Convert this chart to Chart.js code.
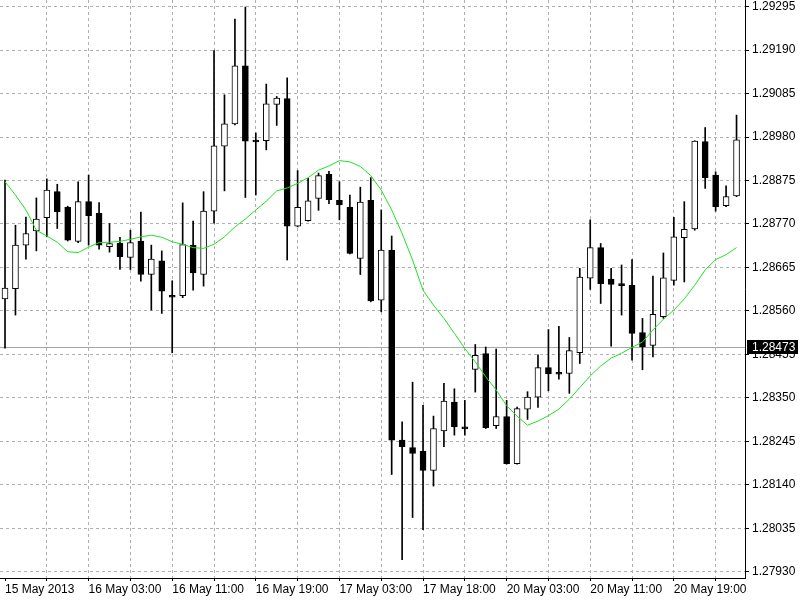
<!DOCTYPE html>
<html>
<head>
<meta charset="utf-8">
<title>EURUSD H1</title>
<script src="https://cdn.jsdelivr.net/npm/chart.js@4.4.1/dist/chart.umd.min.js"></script>
<style>
  html, body { margin: 0; padding: 0; background: #ffffff; }
  #wrap { width: 800px; height: 600px; }
</style>
</head>
<body>
<div id="wrap"><canvas id="priceChart" width="800" height="600"></canvas></div>
<script>
"use strict";

// hourly bars, left to right (bar 0 = 15 May 2013 19:00)
const openPrices = [
    1.28589, 1.28614, 1.28719, 1.28753, 1.28785, 1.28848, 1.28810, 1.28728, 1.28824, 1.28796,
    1.28715, 1.28724, 1.28689, 1.28729, 1.28648, 1.28681, 1.28597, 1.28597, 1.28719, 1.28648,
    1.28801, 1.28958, 1.29012, 1.29152, 1.28970, 1.28971, 1.29059, 1.29073, 1.28765, 1.28778,
    1.28832, 1.28890, 1.28827, 1.28811, 1.28687, 1.28827, 1.28586, 1.28707, 1.28248, 1.28230,
    1.28221, 1.28175, 1.28270, 1.28340, 1.28280, 1.28419, 1.28457, 1.28283, 1.28305, 1.28191,
    1.28323, 1.28352, 1.28423, 1.28410, 1.28409, 1.28459, 1.28639, 1.28713, 1.28637, 1.28625,
    1.28622, 1.28508, 1.28477, 1.28546, 1.28634, 1.28737, 1.28758, 1.28969, 1.28888, 1.28814,
    1.28838
];
const highPrices = [
    1.28876, 1.28767, 1.28787, 1.28833, 1.28879, 1.28866, 1.28813, 1.28872, 1.28888, 1.28822,
    1.28771, 1.28738, 1.28755, 1.28799, 1.28719, 1.28705, 1.28633, 1.28821, 1.28777, 1.28848,
    1.29189, 1.29082, 1.29265, 1.29294, 1.28990, 1.29108, 1.29078, 1.29123, 1.28899, 1.28880,
    1.28893, 1.28897, 1.28872, 1.28840, 1.28859, 1.28882, 1.28804, 1.28741, 1.28292, 1.28388,
    1.28332, 1.28306, 1.28385, 1.28372, 1.28344, 1.28479, 1.28473, 1.28468, 1.28344, 1.28328,
    1.28365, 1.28454, 1.28515, 1.28523, 1.28496, 1.28663, 1.28780, 1.28723, 1.28663, 1.28671,
    1.28684, 1.28542, 1.28644, 1.28700, 1.28786, 1.28824, 1.28971, 1.29003, 1.28896, 1.28862,
    1.29033
];
const lowPrices = [
    1.28470, 1.28550, 1.28685, 1.28705, 1.28739, 1.28759, 1.28729, 1.28725, 1.28719, 1.28709,
    1.28702, 1.28660, 1.28660, 1.28632, 1.28562, 1.28554, 1.28459, 1.28592, 1.28610, 1.28620,
    1.28772, 1.28850, 1.29009, 1.28834, 1.28840, 1.28949, 1.29008, 1.28683, 1.28763, 1.28777,
    1.28803, 1.28819, 1.28780, 1.28698, 1.28648, 1.28582, 1.28558, 1.28165, 1.27959, 1.28061,
    1.28032, 1.28137, 1.28232, 1.28260, 1.28260, 1.28364, 1.28276, 1.28276, 1.28190, 1.28190,
    1.28298, 1.28327, 1.28367, 1.28395, 1.28361, 1.28433, 1.28612, 1.28578, 1.28475, 1.28550,
    1.28441, 1.28418, 1.28449, 1.28542, 1.28622, 1.28630, 1.28755, 1.28856, 1.28801, 1.28812,
    1.28836
];
const closePrices = [
    1.28615, 1.28719, 1.28747, 1.28782, 1.28852, 1.28800, 1.28731, 1.28824, 1.28790, 1.28719,
    1.28723, 1.28691, 1.28725, 1.28648, 1.28685, 1.28608, 1.28593, 1.28720, 1.28652, 1.28801,
    1.28959, 1.29012, 1.29152, 1.28970, 1.28968, 1.29060, 1.29074, 1.28765, 1.28810, 1.28826,
    1.28887, 1.28829, 1.28816, 1.28699, 1.28823, 1.28584, 1.28707, 1.28248, 1.28232, 1.28216,
    1.28175, 1.28276, 1.28342, 1.28280, 1.28275, 1.28453, 1.28278, 1.28305, 1.28191, 1.28324,
    1.28352, 1.28423, 1.28408, 1.28407, 1.28464, 1.28642, 1.28713, 1.28626, 1.28624, 1.28621,
    1.28506, 1.28473, 1.28552, 1.28640, 1.28739, 1.28757, 1.28970, 1.28882, 1.28812, 1.28836,
    1.28973
];
// moving average (green line)
const maValues = [
    1.28872, 1.28840, 1.28804, 1.28755, 1.28741, 1.28726, 1.28703, 1.28701, 1.28714, 1.28725,
    1.28726, 1.28728, 1.28733, 1.28739, 1.28743, 1.28738, 1.28727, 1.28721, 1.28713, 1.28711,
    1.28721, 1.28739, 1.28763, 1.28782, 1.28804, 1.28825, 1.28850, 1.28857, 1.28868, 1.28882,
    1.28900, 1.28910, 1.28923, 1.28920, 1.28909, 1.28887, 1.28852, 1.28804, 1.28747, 1.28683,
    1.28610, 1.28574, 1.28542, 1.28506, 1.28469, 1.28437, 1.28401, 1.28369, 1.28331, 1.28306,
    1.28284, 1.28294, 1.28307, 1.28323, 1.28347, 1.28375, 1.28403, 1.28427, 1.28446, 1.28458,
    1.28472, 1.28485, 1.28514, 1.28540, 1.28562, 1.28589, 1.28622, 1.28659, 1.28684, 1.28696,
    1.28713
];
const bidPrice = 1.28473;

// axis ticks
const priceTicks = [1.27930, 1.28035, 1.28140, 1.28245, 1.28350, 1.28455, 1.28560,
    1.28665, 1.28770, 1.28875, 1.28980, 1.29085, 1.29190, 1.29295];
const gridBars = [0, 4, 8, 12, 16, 20, 24, 28, 32, 36, 40, 44, 48, 52, 56, 60, 64, 68];
const labelBars = [0, 8, 16, 24, 32, 40, 48, 56, 64];
const tickLabels = ["15 May 2013", "16 May 03:00", "16 May 11:00", "16 May 19:00",
    "17 May 03:00", "17 May 18:00", "20 May 03:00", "20 May 11:00", "20 May 19:00"];

const gridColor = '#b0b0b0';
const axisFont = { family: '"Liberation Sans", Arial, sans-serif', size: 12 };

const bodyColors = closePrices.map((c, i) => c > openPrices[i] ? '#ffffff' : '#000000');

// gray bid line + black price box on the right axis
const bidLinePlugin = {
    id: 'bidLine',
    beforeDatasetsDraw(chart) {
        const { ctx, chartArea, scales: { y } } = chart;
        const py = Math.round(y.getPixelForValue(bidPrice)) + 0.5;
        ctx.save();
        ctx.strokeStyle = '#a8a8a8';
        ctx.lineWidth = 1;
        ctx.beginPath();
        ctx.moveTo(chartArea.left, py);
        ctx.lineTo(chartArea.right, py);
        ctx.stroke();
        ctx.restore();
    },
    afterDraw(chart) {
        const { ctx, chartArea, scales: { y } } = chart;
        const py = Math.round(y.getPixelForValue(bidPrice));
        ctx.save();
        ctx.fillStyle = '#000000';
        ctx.fillRect(chartArea.right + 2, py - 7, 51, 14);
        ctx.fillStyle = '#ffffff';
        ctx.font = '12px "Liberation Sans", Arial, sans-serif';
        ctx.textBaseline = 'middle';
        ctx.fillText(bidPrice.toFixed(5), chartArea.right + 7, py + 1);
        ctx.restore();
    }
};

const ctx = document.getElementById('priceChart').getContext('2d');
const priceChart = new Chart(ctx, {
    type: 'bar',
    data: {
        datasets: [
            {
                type: 'line',
                label: 'MA',
                data: maValues.map((v, i) => ({ x: i, y: v })),
                borderColor: '#22e022',
                borderWidth: 1,
                pointRadius: 0,
                tension: 0,
                order: 0
            },
            {
                label: 'Body',
                data: openPrices.map((o, i) => ({ x: i, y: [o, closePrices[i]] })),
                backgroundColor: bodyColors,
                borderColor: '#000000',
                borderWidth: 1,
                borderSkipped: false,
                barThickness: 6,
                minBarLength: 2,
                grouped: false,
                order: 1
            },
            {
                label: 'Wick',
                data: highPrices.map((h, i) => ({ x: i, y: [lowPrices[i], h] })),
                backgroundColor: '#000000',
                borderWidth: 0,
                barThickness: 1,
                grouped: false,
                order: 2
            }
        ]
    },
    options: {
        responsive: false,
        animation: false,
        layout: { padding: 0 },
        plugins: {
            legend: { display: false },
            tooltip: { enabled: false }
        },
        scales: {
            x: {
                type: 'linear',
                offset: false,
                min: -0.48,
                max: 70.81,
                afterBuildTicks: axis => { axis.ticks = gridBars.map(v => ({ value: v })); },
                afterFit: axis => { axis.height = 22; axis.paddingLeft = 0; axis.paddingRight = 0; },
                grid: {
                    offset: false,
                    color: c => (c.tick && c.tick.value === 0) ? 'rgba(0,0,0,0)' : gridColor,
                    tickColor: '#000000',
                    tickLength: 3
                },
                border: { display: true, color: '#000000', width: 1, dash: [3, 3] },
                ticks: {
                    autoSkip: false,
                    maxRotation: 0,
                    align: 'start',
                    padding: 1,
                    color: '#000000',
                    font: axisFont,
                    callback: v => {
                        const k = labelBars.indexOf(v);
                        return k >= 0 ? tickLabels[k] : '';
                    }
                }
            },
            y: {
                position: 'right',
                min: 1.27915,
                max: 1.29311,
                afterBuildTicks: axis => { axis.ticks = priceTicks.map(v => ({ value: v })); },
                afterFit: axis => { axis.width = 55; axis.paddingTop = 0; axis.paddingBottom = 0; },
                grid: { color: gridColor, tickColor: '#000000', tickLength: 4 },
                border: { display: true, color: '#000000', width: 1, dash: [3, 3] },
                ticks: {
                    padding: 3,
                    color: '#000000',
                    font: axisFont,
                    callback: v => v.toFixed(5)
                }
            }
        }
    },
    plugins: [bidLinePlugin]
});
</script>
</body>
</html>
